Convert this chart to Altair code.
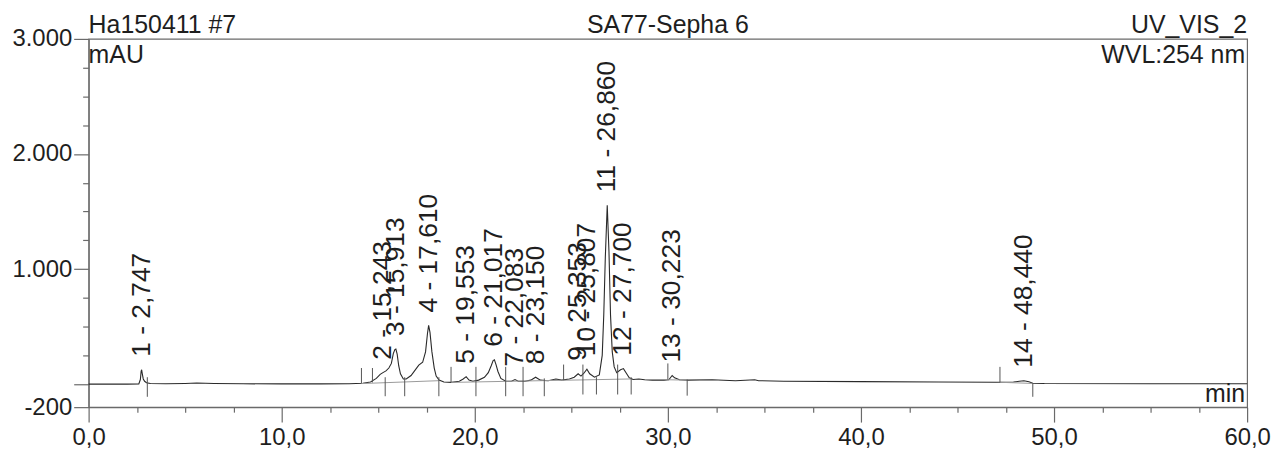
import altair as alt
import pandas as pd

# ---- chromatogram trace (min, mAU) ----
trace_t = [0.0, 2.0, 2.6, 2.68, 2.72, 2.747, 2.78, 2.83, 2.9, 3.0, 3.2, 4.0, 5.0, 5.6, 6.5, 8.0,
           10.0, 12.0, 13.5, 14.2, 14.6, 14.9, 15.1, 15.243, 15.4, 15.55, 15.68, 15.78, 15.86,
           15.913, 15.98, 16.06, 16.15, 16.3, 16.45, 16.7, 16.9, 17.1, 17.3, 17.45, 17.55,
           17.61, 17.68, 17.78, 17.9, 18.0, 18.15, 18.4, 18.8, 19.2, 19.4, 19.553, 19.7, 19.9,
           20.2, 20.5, 20.7, 20.85, 20.95, 21.017, 21.1, 21.2, 21.35, 21.6, 21.9, 22.083,
           22.25, 22.6, 22.9, 23.15, 23.4, 23.8, 24.2, 24.5, 24.9, 25.15, 25.353, 25.5, 25.65,
           25.807, 25.95, 26.2, 26.45, 26.6, 26.68, 26.76, 26.86, 26.95, 27.03, 27.12, 27.22,
           27.35, 27.55, 27.7, 27.85, 28.0, 28.2, 28.5, 28.8, 29.2, 29.8, 30.05, 30.223, 30.35,
           30.6, 31.0, 32.3, 33.5, 34.5, 34.7, 36.0, 40.0, 44.0, 47.0, 47.9, 48.2, 48.44,
           48.7, 48.9, 49.5, 55.0, 60.0]
trace_v = [0, 0, 2, 40, 110, 125, 90, 45, 25, 12, 5, 3, 6, 10, 6, 3,
           2, 2, 4, 8, 18, 50, 85, 100, 115, 140, 180, 265, 300,
           305, 260, 160, 90, 45, 45, 75, 120, 165, 190, 280, 440,
           510, 450, 280, 140, 70, 35, 18, 15, 25, 45, 65, 35, 25,
           35, 60, 100, 160, 205, 212, 170, 110, 50, 25, 25, 40,
           25, 25, 35, 60, 35, 30, 45, 35, 45, 60, 90, 70, 95,
           130, 90, 60, 80, 250, 600, 1100, 1555, 1150, 600, 280, 150,
           100, 125, 135, 95, 55, 40, 45, 38, 35, 35, 38, 75, 55,
           38, 35, 38, 30, 38, 30, 25, 22, 18, 16, 18, 25, 30,
           20, 8, 5, 4, 3]

# ---- peaks ----
peak_no = [1, 2, 3, 4, 5, 6, 7, 8, 9, 10, 11, 12, 13, 14]
peak_t = [2.747, 15.243, 15.913, 17.610, 19.553, 21.017, 22.083, 23.150,
          25.353, 25.807, 26.860, 27.700, 30.223, 48.440]
peak_h = [125, 100, 305, 510, 65, 212, 40, 60, 90, 130, 1555, 135, 75, 30]

# ---- peak delimiters (min, low mAU, high mAU) ----
delim_t = [3.04, 14.13, 14.7, 15.36, 16.37, 18.14, 18.77, 20.06, 21.6, 22.5, 23.6,
           24.6, 25.6, 26.3, 27.4, 28.1, 30.0, 31.0, 47.2, 48.9]
delim_lo = [-110, 10, 15, -105, -105, -105, 15, -105, -105, -105, -105,
            35, -90, -90, -90, -90, 40, -100, 15, -110]
delim_hi = [60, 140, 140, 60, 60, 60, 150, 150, 150, 150, 50,
            170, 170, 60, 170, 60, 180, 40, 150, 10]

# ---- integration baselines ----
base_t0 = [14.13, 18.77, 30.0, 47.2]
base_v0 = [5, 15, 38, 16]
base_t1 = [18.14, 28.1, 31.0, 48.9]
base_v1 = [30, 45, 35, 6]

# ---- axis ticks ----
x_ticks = [0, 2.5, 5, 7.5, 10, 12.5, 15, 17.5, 20, 22.5, 25, 27.5, 30, 32.5, 35, 37.5,
           40, 42.5, 45, 47.5, 50, 52.5, 55, 57.5, 60]
y_ticks = [-200, 0, 250, 500, 750, 1000, 1250, 1500, 1750, 2000, 2250, 2500, 2750, 3000]

FONT = "Liberation Sans"
FRAME = "#6a6a6a"
INK = "#1e1e1e"
W, H = 1164, 370

trace = pd.DataFrame({"t": trace_t, "v": trace_v})
peaks = pd.DataFrame({
    "t": peak_t, "v": peak_h,
    "label": [f"{n} - {t:.3f}".replace(".", ",") for n, t in zip(peak_no, peak_t)],
})
delims = pd.DataFrame({"t": delim_t, "lo": delim_lo, "hi": delim_hi})
bases = pd.DataFrame({"t0": base_t0, "v0": base_v0, "t1": base_t1, "v1": base_v1})

xs = alt.Scale(domain=[0, 60], nice=False, zero=False)
ys = alt.Scale(domain=[-200, 3000], nice=False, zero=False)

x_axis = alt.Axis(
    values=x_ticks,
    labelExpr="datum.value % 10 == 0 ? replace(format(datum.value, '.1f'), '.', ',') : ''",
    tickSize={"condition": {"test": "datum.value % 10 == 0", "value": 15}, "value": 5},
    labelFlush=False, labelOverlap=False, labelPadding=4, grid=False,
)
y_axis = alt.Axis(
    values=y_ticks,
    labelExpr="datum.value == -200 ? '-200' : (datum.value > 0 && datum.value % 1000 == 0 ? replace(format(datum.value, ','), ',', '.') : '')",
    tickSize={"condition": {"test": "datum.value == -200 || datum.value % 1000 == 0", "value": 15}, "value": 6},
    labelOverlap=False, labelPadding=2, grid=False, labelBaseline="middle",
)

def X(field):
    return alt.X(field, scale=xs, axis=x_axis, title=None)

def Y(field):
    return alt.Y(field, scale=ys, axis=y_axis, title=None)

line = alt.Chart(trace).mark_line(color="#2a2a2a", strokeWidth=1.1).encode(
    x=X("t:Q"), y=Y("v:Q"),
)

base_layer = alt.Chart(bases).mark_rule(color="#9a9a9a", strokeWidth=1).encode(
    x=X("t0:Q"), y=Y("v0:Q"), x2="t1:Q", y2="v1:Q",
)

delim_layer = alt.Chart(delims).mark_rule(color="#555555", strokeWidth=1).encode(
    x=X("t:Q"), y=Y("lo:Q"), y2="hi:Q",
)

label_layer = alt.Chart(peaks).mark_text(
    angle=270, align="left", baseline="middle", dx=13, font=FONT, fontSize=26.5, color=INK,
).encode(
    x=X("t:Q"), y=Y("v:Q"), text="label:N",
)

def header(txt, px, py, align):
    return alt.Chart(pd.DataFrame({"k": [0]})).mark_text(
        text=txt, align=align, baseline="alphabetic", font=FONT, fontSize=25, color=INK,
    ).encode(x=alt.value(px), y=alt.value(py))

headers = [
    header("Ha150411 #7", 0, -6, "left"),
    header("SA77-Sepha 6", W / 2, -6, "center"),
    header("UV_VIS_2", W, -6, "right"),
    header("mAU", 0, 24, "left"),
    header("WVL:254 nm", W - 2, 24, "right"),
    header("min", W - 2, 365, "right"),
]

chart = alt.layer(line, base_layer, delim_layer, label_layer, *headers).properties(
    width=W, height=H,
    autosize=alt.AutoSizeParams(type="none"),
    padding={"left": 81, "top": 30, "right": 24, "bottom": 42},
    background="white",
).configure_view(
    stroke=FRAME, strokeWidth=1.2,
).configure_axis(
    domainColor=FRAME, tickColor=FRAME, domainWidth=1.2, tickWidth=1.2,
    labelFont=FONT, labelFontSize=24, labelColor=INK,
)

chart.save("out.html", embed_options={"renderer": "svg", "actions": False})
